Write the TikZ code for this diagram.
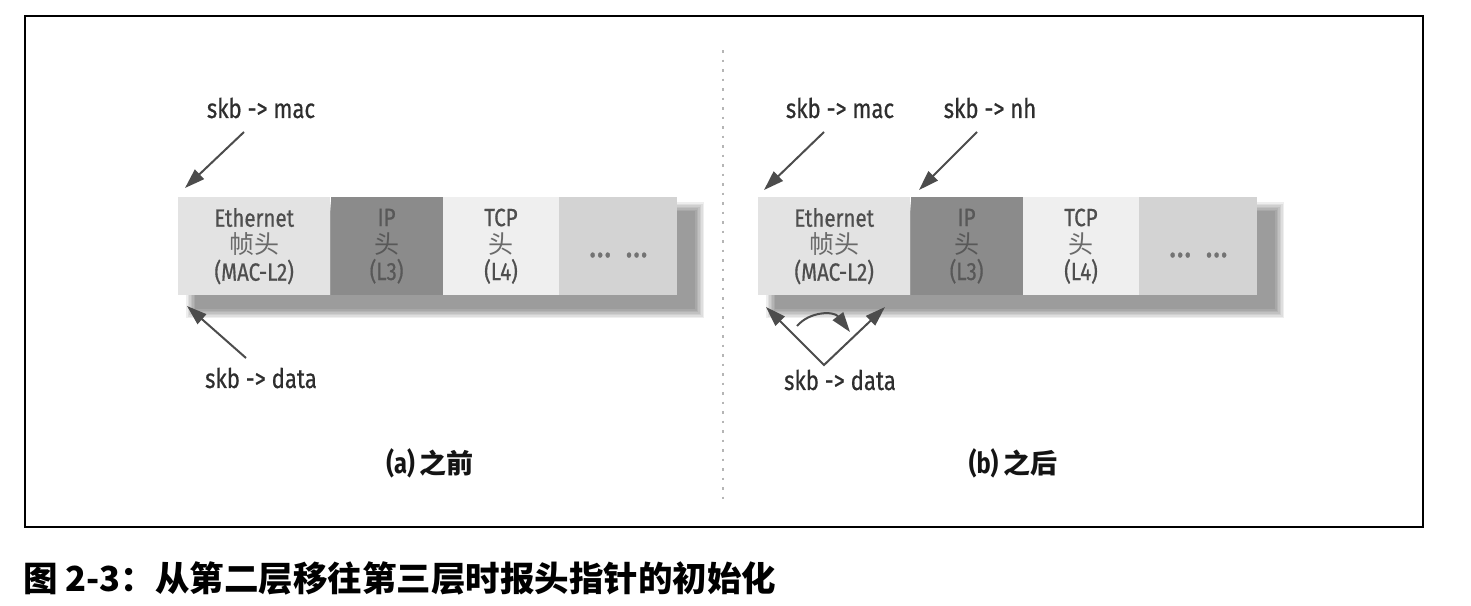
\documentclass[tikz,border=0pt]{standalone}
\usepackage{fontspec}
\usetikzlibrary{arrows.meta}
\setmainfont{Fira Sans}[FakeStretch=0.82]
\newfontfamily\blkfont{Fira Sans}[FakeStretch=0.82, FakeBold=0.6]
\newfontfamily\cjk{Noto Sans CJK SC}
\definecolor{ethfill}{HTML}{E3E3E3}
\definecolor{ipfill}{HTML}{8B8B8B}
\definecolor{tcpfill}{HTML}{EFEFEF}
\definecolor{dotfill}{HTML}{D3D3D3}
\definecolor{txtgray}{HTML}{4E4E4E}
\definecolor{cjkgray}{HTML}{6A6A6A}
\definecolor{iptxt}{HTML}{585858}
\definecolor{labelgray}{HTML}{2E2E2E}
\definecolor{arrowgray}{HTML}{4C4C4C}
\definecolor{divgray}{HTML}{B5B5B5}
\begin{document}
\begin{tikzpicture}[x=1pt,y=-1pt,
  blk/.style={draw=none, minimum height=98pt, inner sep=0pt, anchor=north west,
    align=center, font=\blkfont\fontsize{25}{27}\selectfont, text=txtgray},
  lbl/.style={font=\blkfont\fontsize{27}{30}\selectfont, text=labelgray, inner sep=0pt},
  ptr/.style={draw=arrowgray, line width=2pt, -{Triangle[length=20pt,width=13pt]}},
  ptrboth/.style={draw=arrowgray, line width=2pt, {Triangle[length=20pt,width=13pt]}-{Triangle[length=20pt,width=13pt]}},
  subcap/.style={anchor=base, font=\fontsize{29}{31}\selectfont\bfseries, text=black!92, inner sep=0pt}]
\useasboundingbox (0,0) rectangle (1471,605);
\fill[white] (0,0) rectangle (1471,605);

% frame
\draw[line width=2pt, black] (25,16) rectangle (1423,527);

% divider
\coordinate (dtop) at (723,50);
\coordinate (dbot) at (723,500);
\draw[divgray, line width=1.3pt, dash pattern=on 2.5pt off 7pt] (dtop) -- (dbot);

% packets (both panels)
\foreach \ox/\p in {0/a,580/b}{
  % blurred shadow
  \foreach \i in {0,...,6}{
    \fill[black, opacity=0.068] ({186+\ox+\i*1.5},{202+\i*1.5}) rectangle ({704+\ox-\i*1.5},{318-\i*1.5});
  }
  \node[blk, fill=ethfill, minimum width=152pt] (eth-\p) at ({178+\ox},197)
    {Ethernet\\{\cjk\color{cjkgray}帧头}\\(MAC-L2)};
  \node[blk, fill=ipfill, minimum width=112pt, text=iptxt] (ip-\p) at (eth-\p.north east)
    {IP\\{\cjk 头}\\(L3)};
  \node[blk, fill=tcpfill, minimum width=116pt] (tcp-\p) at (ip-\p.north east)
    {TCP\\{\cjk\color{cjkgray}头}\\(L4)};
  \node[blk, fill=dotfill, minimum width=118pt] (dot-\p) at (tcp-\p.north east) {};
  \node[anchor=base, font=\blkfont\fontsize{37}{37}\selectfont, text=black!55, inner sep=0pt]
    (dt-\p) at ([yshift=-11pt]dot-\p.center) {…\hspace{14pt}…};
}

% ---- panel (a)
\node[lbl] (macA) at (261,108) {skb -> mac};
\node[lbl] (dataA) at (261,378) {skb -> data};
\coordinate (macAs) at (244,132);
\coordinate (macAe) at (185,188);
\coordinate (dataAs) at (246,358);
\coordinate (dataAe) at (187,306);
\draw[ptr] (macAs) -- (macAe);
\draw[ptr] (dataAs) -- (dataAe);
\node[subcap] (capA) at (430,473) {(a)\,{\cjk\bfseries\fontsize{27}{30}\selectfont 之前}};

% ---- panel (b)
\node[lbl] (macB) at (840,108) {skb -> mac};
\node[lbl] (nhB) at (990,108) {skb -> nh};
\node[lbl] (dataB) at (840,380) {skb -> data};
\coordinate (macBs) at (824,132);
\coordinate (macBe) at (764,190);
\coordinate (nhBs) at (977,132);
\coordinate (nhBe) at (919,190);
\draw[ptr] (macBs) -- (macBe);
\draw[ptr] (nhBs) -- (nhBe);
\coordinate (vl) at (766,307);
\coordinate (vv) at (824,365);
\coordinate (vr) at (885,307);
\draw[ptrboth] (vl) -- (vv) -- (vr);
\coordinate (cs) at (797,326);
\coordinate (ce) at (850,332);
\draw[ptr] (cs) .. controls (810,311) and (834,311) .. (ce);
\node[subcap] (capB) at (1013,473) {(b)\,{\cjk\bfseries\fontsize{27}{30}\selectfont 之后}};

% figure caption
\node[anchor=base west, font=\cjk\bfseries\fontsize{34.5}{40}\selectfont, inner sep=0pt, text=black]
  (fig) at (23,591) {图 2-3：从第二层移往第三层时报头指针的初始化};
\end{tikzpicture}
\end{document}
